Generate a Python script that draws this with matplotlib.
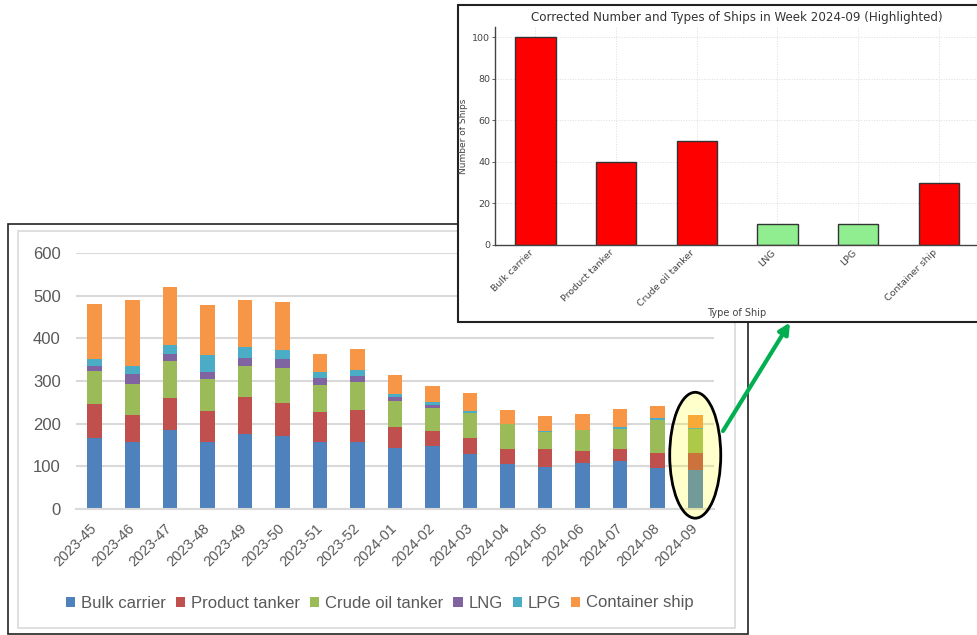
import numpy as np
import matplotlib
matplotlib.use("Agg")
import matplotlib.pyplot as plt
from matplotlib.patches import Rectangle, Ellipse

# ---------------------------------------------------------
# data
# ---------------------------------------------------------
weeks = ["2023-45", "2023-46", "2023-47", "2023-48", "2023-49", "2023-50",
         "2023-51", "2023-52", "2024-01", "2024-02", "2024-03", "2024-04",
         "2024-05", "2024-06", "2024-07", "2024-08", "2024-09"]
bulk_carrier = [166, 156, 184, 156, 175, 171, 156, 158, 142, 147, 129, 105, 98, 107, 112, 97, 91]
product_tanker = [80, 65, 76, 74, 87, 77, 72, 74, 51, 36, 37, 35, 42, 29, 28, 34, 41]
crude_oil_tanker = [78, 73, 87, 74, 74, 82, 62, 66, 60, 54, 60, 60, 40, 50, 47, 78, 56]
lng = [11, 23, 16, 18, 18, 21, 16, 14, 9, 6, 0, 0, 0, 0, 0, 0, 0]
lpg = [16, 18, 21, 39, 25, 21, 16, 13, 8, 8, 3, 0, 3, 0, 5, 5, 2]
container_ship = [129, 154, 137, 117, 112, 113, 41, 50, 44, 38, 42, 32, 35, 37, 43, 28, 30]

series_names = ["Bulk carrier", "Product tanker", "Crude oil tanker", "LNG", "LPG", "Container ship"]
series_colors = ["#4F81BD", "#C0504D", "#9BBB59", "#8064A2", "#4BACC6", "#F79646"]

# inset: week 2024-09
ship_types = ["Bulk carrier", "Product tanker", "Crude oil tanker", "LNG", "LPG", "Container ship"]
ship_counts = [100, 40, 50, 10, 10, 30]
ship_colors = ["red", "red", "red", "lightgreen", "lightgreen", "red"]

W, H = 977, 635


def fx(px):
    return px / W


def fy(py):
    return 1 - py / H


fig = plt.figure(figsize=(W / 100, H / 100), dpi=100)
fig.patch.set_facecolor("white")

# =========================================================
# main stacked chart (Excel look)
# =========================================================
fig.add_artist(Rectangle((fx(8), fy(634)), fx(740), 410 / H, transform=fig.transFigure,
                         facecolor="white", edgecolor="#222222", lw=1.2, zorder=0))
fig.add_artist(Rectangle((fx(18), fy(628)), fx(717), 397 / H, transform=fig.transFigure,
                         facecolor="none", edgecolor="#d9d9d9", lw=1.2, zorder=0.5))

ax = fig.add_axes([fx(76), fy(509), fx(714 - 76), (509 - 253) / H], zorder=1)
ax.patch.set_alpha(0)
x = np.arange(len(weeks))
series = [bulk_carrier, product_tanker, crude_oil_tanker, lng, lpg, container_ship]
bottom = np.zeros(len(weeks))
for vals, name, col in zip(series, series_names, series_colors):
    ax.bar(x, vals, width=0.39, bottom=bottom, color=col, label=name, zorder=2)
    bottom += np.array(vals)

ax.set_xlim(-0.5, len(weeks) - 0.5)
ax.set_ylim(0, 600)
ax.set_yticks(range(0, 601, 100))
ax.yaxis.grid(True, color="#d9d9d9", lw=1.5, zorder=0)
ax.set_axisbelow(True)
for s in ["top", "right", "left"]:
    ax.spines[s].set_visible(False)
ax.spines["bottom"].set_color("#d9d9d9")
ax.spines["bottom"].set_linewidth(1.5)
ax.tick_params(axis="both", length=0, colors="#595959")
ax.tick_params(axis="y", pad=11, labelsize=12)
ax.set_xticks(x)
ax.set_xticklabels(weeks, rotation=45, ha="right", va="center",
                   rotation_mode="anchor", fontsize=10.5, color="#595959",
                   fontfamily="Liberation Sans")
ax.tick_params(axis="x", pad=12)
for lab in ax.get_yticklabels():
    lab.set_fontfamily("Liberation Sans")

# highlight ellipse around the last week
ax.add_patch(Ellipse((len(weeks) - 1, 126), 1.36, 295, facecolor=(1, 1, 0, 0.2),
                     edgecolor="black", lw=2, clip_on=False, zorder=5))

leg = ax.legend(loc="center", bbox_to_anchor=(fx(380), fy(603)), bbox_transform=fig.transFigure,
                ncol=6, frameon=False, handlelength=0.55, handleheight=0.55,
                handletextpad=0.35, columnspacing=0.6,
                prop={"family": "Liberation Sans", "size": 12})
for t in leg.get_texts():
    t.set_color("#595959")

# =========================================================
# inset chart (matplotlib look)
# =========================================================
fig.add_artist(Rectangle((fx(458), fy(322)), 0.6, (322 - 5) / H, transform=fig.transFigure,
                         facecolor="white", edgecolor="#222222", lw=1.5, zorder=2))

ax2 = fig.add_axes([fx(495), fy(245), fx(979 - 495), (245 - 27) / H], zorder=3)
xi = np.arange(len(ship_types))
ax2.bar(xi, ship_counts, width=0.5, color=ship_colors, edgecolor="#333333", lw=1, zorder=2)
ax2.set_xlim(-0.5, len(ship_types) - 0.5)
ax2.set_ylim(0, 105)
ax2.set_yticks(range(0, 101, 20))
ax2.set_xticks(xi)
ax2.set_xticklabels(ship_types, rotation=45, ha="right", fontsize=6.8, color="#444444")
ax2.tick_params(axis="y", labelsize=6.8, colors="#444444", length=2.5, width=0.6, pad=1)
ax2.tick_params(axis="x", length=0, pad=2)
ax2.grid(True, color="#dddddd", lw=0.7, ls=":", zorder=0)
ax2.set_axisbelow(True)
ax2.spines["top"].set_visible(False)
for s in ["left", "bottom", "right"]:
    ax2.spines[s].set_color("#444444")
    ax2.spines[s].set_linewidth(1)
ax2.set_title("Corrected Number and Types of Ships in Week 2024-09 (Highlighted)",
              fontsize=8.6, color="#333333", pad=4)
ax2.set_ylabel("Number of Ships", fontsize=6.5, color="#444444", labelpad=3)
ax2.set_xlabel("Type of Ship", fontsize=7, color="#444444", labelpad=0)

# green arrow from the ellipse to the inset
ann = ax.annotate("", xy=(fx(790), fy(322.5)), xycoords="figure fraction",
                  xytext=(fx(723), fy(431)), textcoords="figure fraction",
                  arrowprops=dict(arrowstyle="-|>", color="#00B050", lw=3,
                                  mutation_scale=16, shrinkA=0, shrinkB=0))
ann.set_zorder(10)
ann.set_annotation_clip(False)

fig.savefig("out.png", dpi=100)
